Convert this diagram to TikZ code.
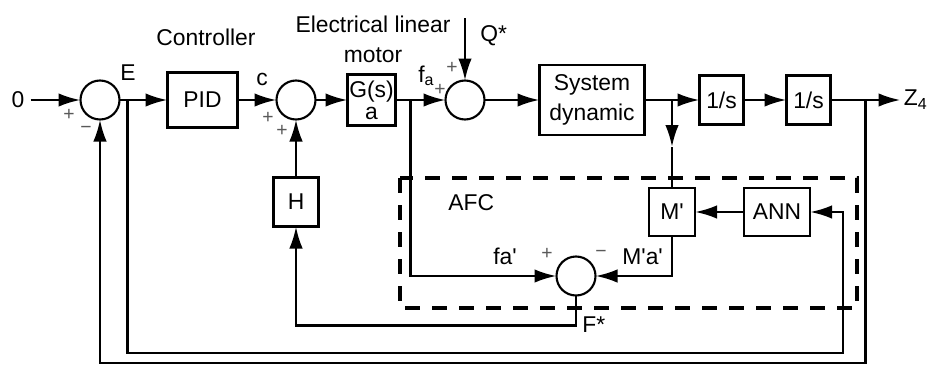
\documentclass[tikz,border=0pt]{standalone}
\usepackage{fontspec}
\setmainfont{Liberation Sans}
\usetikzlibrary{arrows.meta, positioning, calc}

\newcommand{\prm}{\textquotesingle}

\begin{document}
\begin{tikzpicture}[auto, font=\fontsize{13}{17}\selectfont,
        block/.style={rectangle, draw, line width=1.6pt, inner sep=0pt, outer sep=0pt, align=center},
        sum/.style={circle, draw, line width=1.2pt, minimum size=0.78cm, inner sep=0pt, outer sep=0pt},
        sign/.style={inner sep=0pt, font=\fontsize{11}{11}\selectfont, text=black!65},
        label/.style={inner sep=0pt, anchor=base},
        line/.style={draw, line width=1.5pt, -{Latex[length=0.44cm, width=0.27cm]}},
        wire/.style={draw, line width=1.5pt},
        afcbox/.style={draw, line width=1.9pt, dash pattern=on 0.3cm off 0.24cm}]

    \useasboundingbox (0,0) rectangle (18.6,-7.3);

    % Nodes
    \node [sum] (sum1) at (2.0,-2.0) {};
    \node [block, right=0.96cm of sum1, minimum width=1.4cm, minimum height=1.1cm] (pid) {PID};
    \node [sum, right=0.78cm of pid] (sum2) {};
    \node [block, right=0.64cm of sum2, minimum width=0.96cm, minimum height=1.02cm,
           font=\fontsize{13}{12.5}\selectfont] (motor) {G(s)\\a};
    \node [sum, right=1.0cm of motor] (sum3) {};
    \node [block, right=1.1cm of sum3, minimum width=2.1cm, minimum height=1.4cm] (plant) {System\\dynamic};
    \node [block, right=1.1cm of plant, minimum width=0.88cm, minimum height=0.98cm] (int1) {1/s};
    \node [block, right=0.86cm of int1, minimum width=0.88cm, minimum height=0.98cm] (int2) {1/s};
    \coordinate [right=1.4cm of int2] (out);
    \node [right=0.06cm of out, inner sep=0pt] (zout) {Z\textsubscript{4}};
    \node (zero) at (0.36,-2.0) {0};
    \coordinate [above=1.25cm of sum3.north] (q);

    % Feedback and AFC blocks
    \node [block, below=1.16cm of sum2, minimum width=0.9cm, minimum height=0.98cm] (h) {H};
    \coordinate (b2) at ($(plant.east)!0.5!(int1.west)$);
    \coordinate [below=0.94cm of b2] (mtip);
    \node [block, below=1.76cm of b2, minimum width=0.92cm, minimum height=0.96cm] (mp) {M\prm};
    \node [block, right=0.98cm of mp, minimum width=1.32cm, minimum height=0.96cm] (ann) {ANN};
    \node [sum] (sum4) at (11.52,-5.52) {};
    \draw [afcbox] (8.0,-3.56) rectangle (17.14,-6.16);

    % Branch points
    \coordinate (b0) at ($(sum1.east)+(0.16,0)$);
    \coordinate (b1) at ($(motor.east)+(0.3,0)$);
    \coordinate (b3) at ($(int2.east)+(0.7,0)$);
    \coordinate (fstar) at ($(sum4.south)+(0,-0.6)$);
    \coordinate (elow) at (16.86,-7.06);
    \coordinate (zlow) at ($(b3)+(0,-5.26)$);

    % Texts
    \node [label] (lcontr) at (4.12,-0.9) {Controller};
    \node [inner sep=0pt, anchor=north, align=center] (lmotor) at (7.46,-0.32) {Electrical linear\\motor};
    \node [label] (le) at (2.56,-1.6) {E};
    \node [label] (lc) at (5.24,-1.7) {c};
    \node [label, anchor=base west] (lfa) at (8.36,-1.64) {f\textsubscript{a}};
    \node [label, anchor=base west] (lq) at (9.6,-0.82) {Q*};
    \node [label, anchor=base west] (lafc) at (8.96,-4.2) {AFC};
    \node [label, anchor=base west] (lfap) at (9.86,-5.28) {fa\prm};
    \node [label, anchor=base west] (lmap) at (12.44,-5.28) {M\prm a\prm};
    \node [label, anchor=base west] (lfs) at (11.64,-6.64) {F*};

    % Signs
    \node [sign] (s1p) at (1.38,-2.3) {+};
    \node [sign] (s1m) at (1.72,-2.6) {−};
    \node [sign] (s2a) at (5.36,-2.36) {+};
    \node [sign] (s2b) at (5.64,-2.62) {+};
    \node [sign] (s3a) at (8.8,-1.8) {+};
    \node [sign] (s3b) at (9.04,-1.36) {+};
    \node [sign] (s4p) at (10.94,-5.07) {+};
    \node [sign] (s4m) at (12.02,-5.08) {−};

    % Paths
    \path [line] (zero) -- (sum1);
    \path [line] (sum1) -- (pid);
    \path [line] (pid) -- (sum2);
    \path [line] (sum2) -- (motor);
    \path [line] (motor) -- (sum3);
    \path [line] (sum3) -- (plant);
    \path [line] (plant) -- (int1);
    \path [line] (int1) -- (int2);
    \path [line] (int2) -- (out);
    \path [line] (q) -- (sum3);
    \path [line] (h) -- (sum2);

    % AFC loop
    \path [line] (b1) |- (sum4);
    \path [line] (mp) |- (sum4);
    \path [line] (ann) -- (mp);
    \path [line] (b2) -- (mtip);
    \path [wire] (mtip) -- (mp);
    \path [line] (sum4) -- (fstar) -| (h);

    % Outer loops
    \path [line] (b0) |- (elow) |- (ann);
    \path [line] (b3) -- (zlow) -| (sum1);

\end{tikzpicture}
\end{document}
